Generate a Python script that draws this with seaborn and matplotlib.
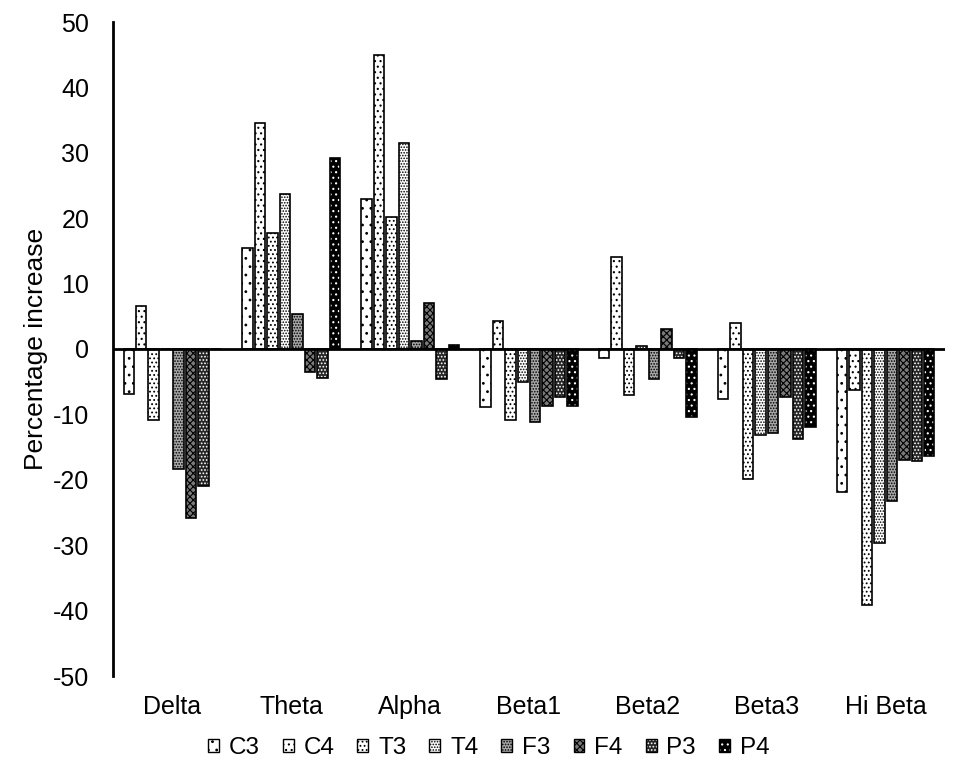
import matplotlib
matplotlib.use("Agg")
import matplotlib.pyplot as plt
from matplotlib.patches import Rectangle
from matplotlib.legend_handler import HandlerTuple
import seaborn as sns
import pandas as pd

# ---- data ----
bands = ['Delta', 'Theta', 'Alpha', 'Beta1', 'Beta2', 'Beta3', 'Hi Beta']
sites = ['C3', 'C4', 'T3', 'T4', 'F3', 'F4', 'P3', 'P4']
C3 = [-6.9, 15.5, 22.9, -8.9, -1.4, -7.6, -21.8]
C4 = [6.5, 34.5, 44.9, 4.3, 14.0, 3.9, -6.3]
T3 = [-10.8, 17.7, 20.2, -10.8, -7.0, -19.9, -39.2]
T4 = [0.0, 23.7, 31.5, -5.1, 0.45, -13.2, -29.6]
F3 = [-18.4, 5.4, 1.15, -11.2, -4.6, -12.8, -23.3]
F4 = [-25.8, -3.5, 7.05, -8.7, 3.05, -7.3, -16.9]
P3 = [-20.9, -4.5, -4.55, -7.35, -1.4, -13.7, -17.2]
P4 = [0.0, 29.2, 0.6, -8.7, -10.4, -12.0, -16.3]
yticks = [-50, -40, -30, -20, -10, 0, 10, 20, 30, 40, 50]

series = dict(C3=C3, C4=C4, T3=T3, T4=T4, F3=F3, F4=F4, P3=P3, P4=P4)
rows = []
for s in sites:
    for b, v in zip(bands, series[s]):
        rows.append({'band': b, 'site': s, 'value': v})
df = pd.DataFrame(rows)

# ---- styles ----
faces = ['white', 'white', 'white', 'white', '#a8a8a8', '#7a7a7a', '#262626', '#000000']
hatches = ['..', '...', '....', '......', '......', 'xxxxx', '.....', '...']
hatch_cols = ['black', 'black', 'black', 'black', 'black', 'black', 'white', 'white']

sns.set_theme(style='white')
plt.rcParams['font.family'] = ['Liberation Sans', 'DejaVu Sans']
plt.rcParams['axes.unicode_minus'] = False
plt.rcParams['hatch.linewidth'] = 0.8
for k in ['text.color', 'axes.labelcolor', 'xtick.color', 'ytick.color']:
    plt.rcParams[k] = 'black'

fig = plt.figure(figsize=(9.6, 7.76), dpi=100)
ax = fig.add_axes([113 / 960, 1 - 676 / 776, 832 / 960, 654 / 776])

sns.barplot(data=df, x='band', y='value', hue='site', order=bands,
            hue_order=sites, width=0.84, gap=0.16, errorbar=None,
            palette=['white'] * len(sites), legend=False, ax=ax)

for i, cont in enumerate(ax.containers):
    for p in cont.patches:
        p.set_facecolor(faces[i])
        p.set_hatch(hatches[i])
        p.set_edgecolor(hatch_cols[i])
        p.set_linewidth(0)
        ax.add_patch(Rectangle(p.get_xy(), p.get_width(), p.get_height(),
                               fill=False, edgecolor='black', linewidth=1.2,
                               zorder=p.get_zorder() + 0.1))

ax.axhline(0, color='black', linewidth=2, zorder=5)
ax.set_xlim(-0.5, len(bands) - 0.5)
ax.set_ylim(-50, 50)
ax.set_yticks(yticks)
ax.set_yticklabels([str(t) for t in yticks])
ax.tick_params(axis='y', length=0, labelsize=18, pad=17, colors='black')
ax.tick_params(axis='x', length=0, labelsize=18, pad=14, colors='black')
ax.set_xlabel('')
ax.set_ylabel('Percentage increase', fontsize=19, color='black')
ax.yaxis.set_label_coords(-0.092, 0.5)
ax.yaxis.label.set_va('center')
for sp in ['top', 'right', 'bottom']:
    ax.spines[sp].set_visible(False)
ax.spines['left'].set_color('black')
ax.spines['left'].set_linewidth(2)
ax.grid(False)

handles = []
for i in range(len(sites)):
    h1 = Rectangle((0, 0), 1, 1, facecolor=faces[i], hatch=hatches[i],
                   edgecolor=hatch_cols[i], linewidth=0)
    h2 = Rectangle((0, 0), 1, 1, fill=False, edgecolor='black', linewidth=1)
    handles.append((h1, h2))
fig.legend(handles, sites, handler_map={tuple: HandlerTuple(ndivide=1)},
           loc='center', bbox_to_anchor=(0.509, 0.036), ncol=8, frameon=False,
           fontsize=17.5, handlelength=0.45, handleheight=0.45,
           handletextpad=0.4, columnspacing=0.95)

fig.savefig('out.png', dpi=100, facecolor='white')
